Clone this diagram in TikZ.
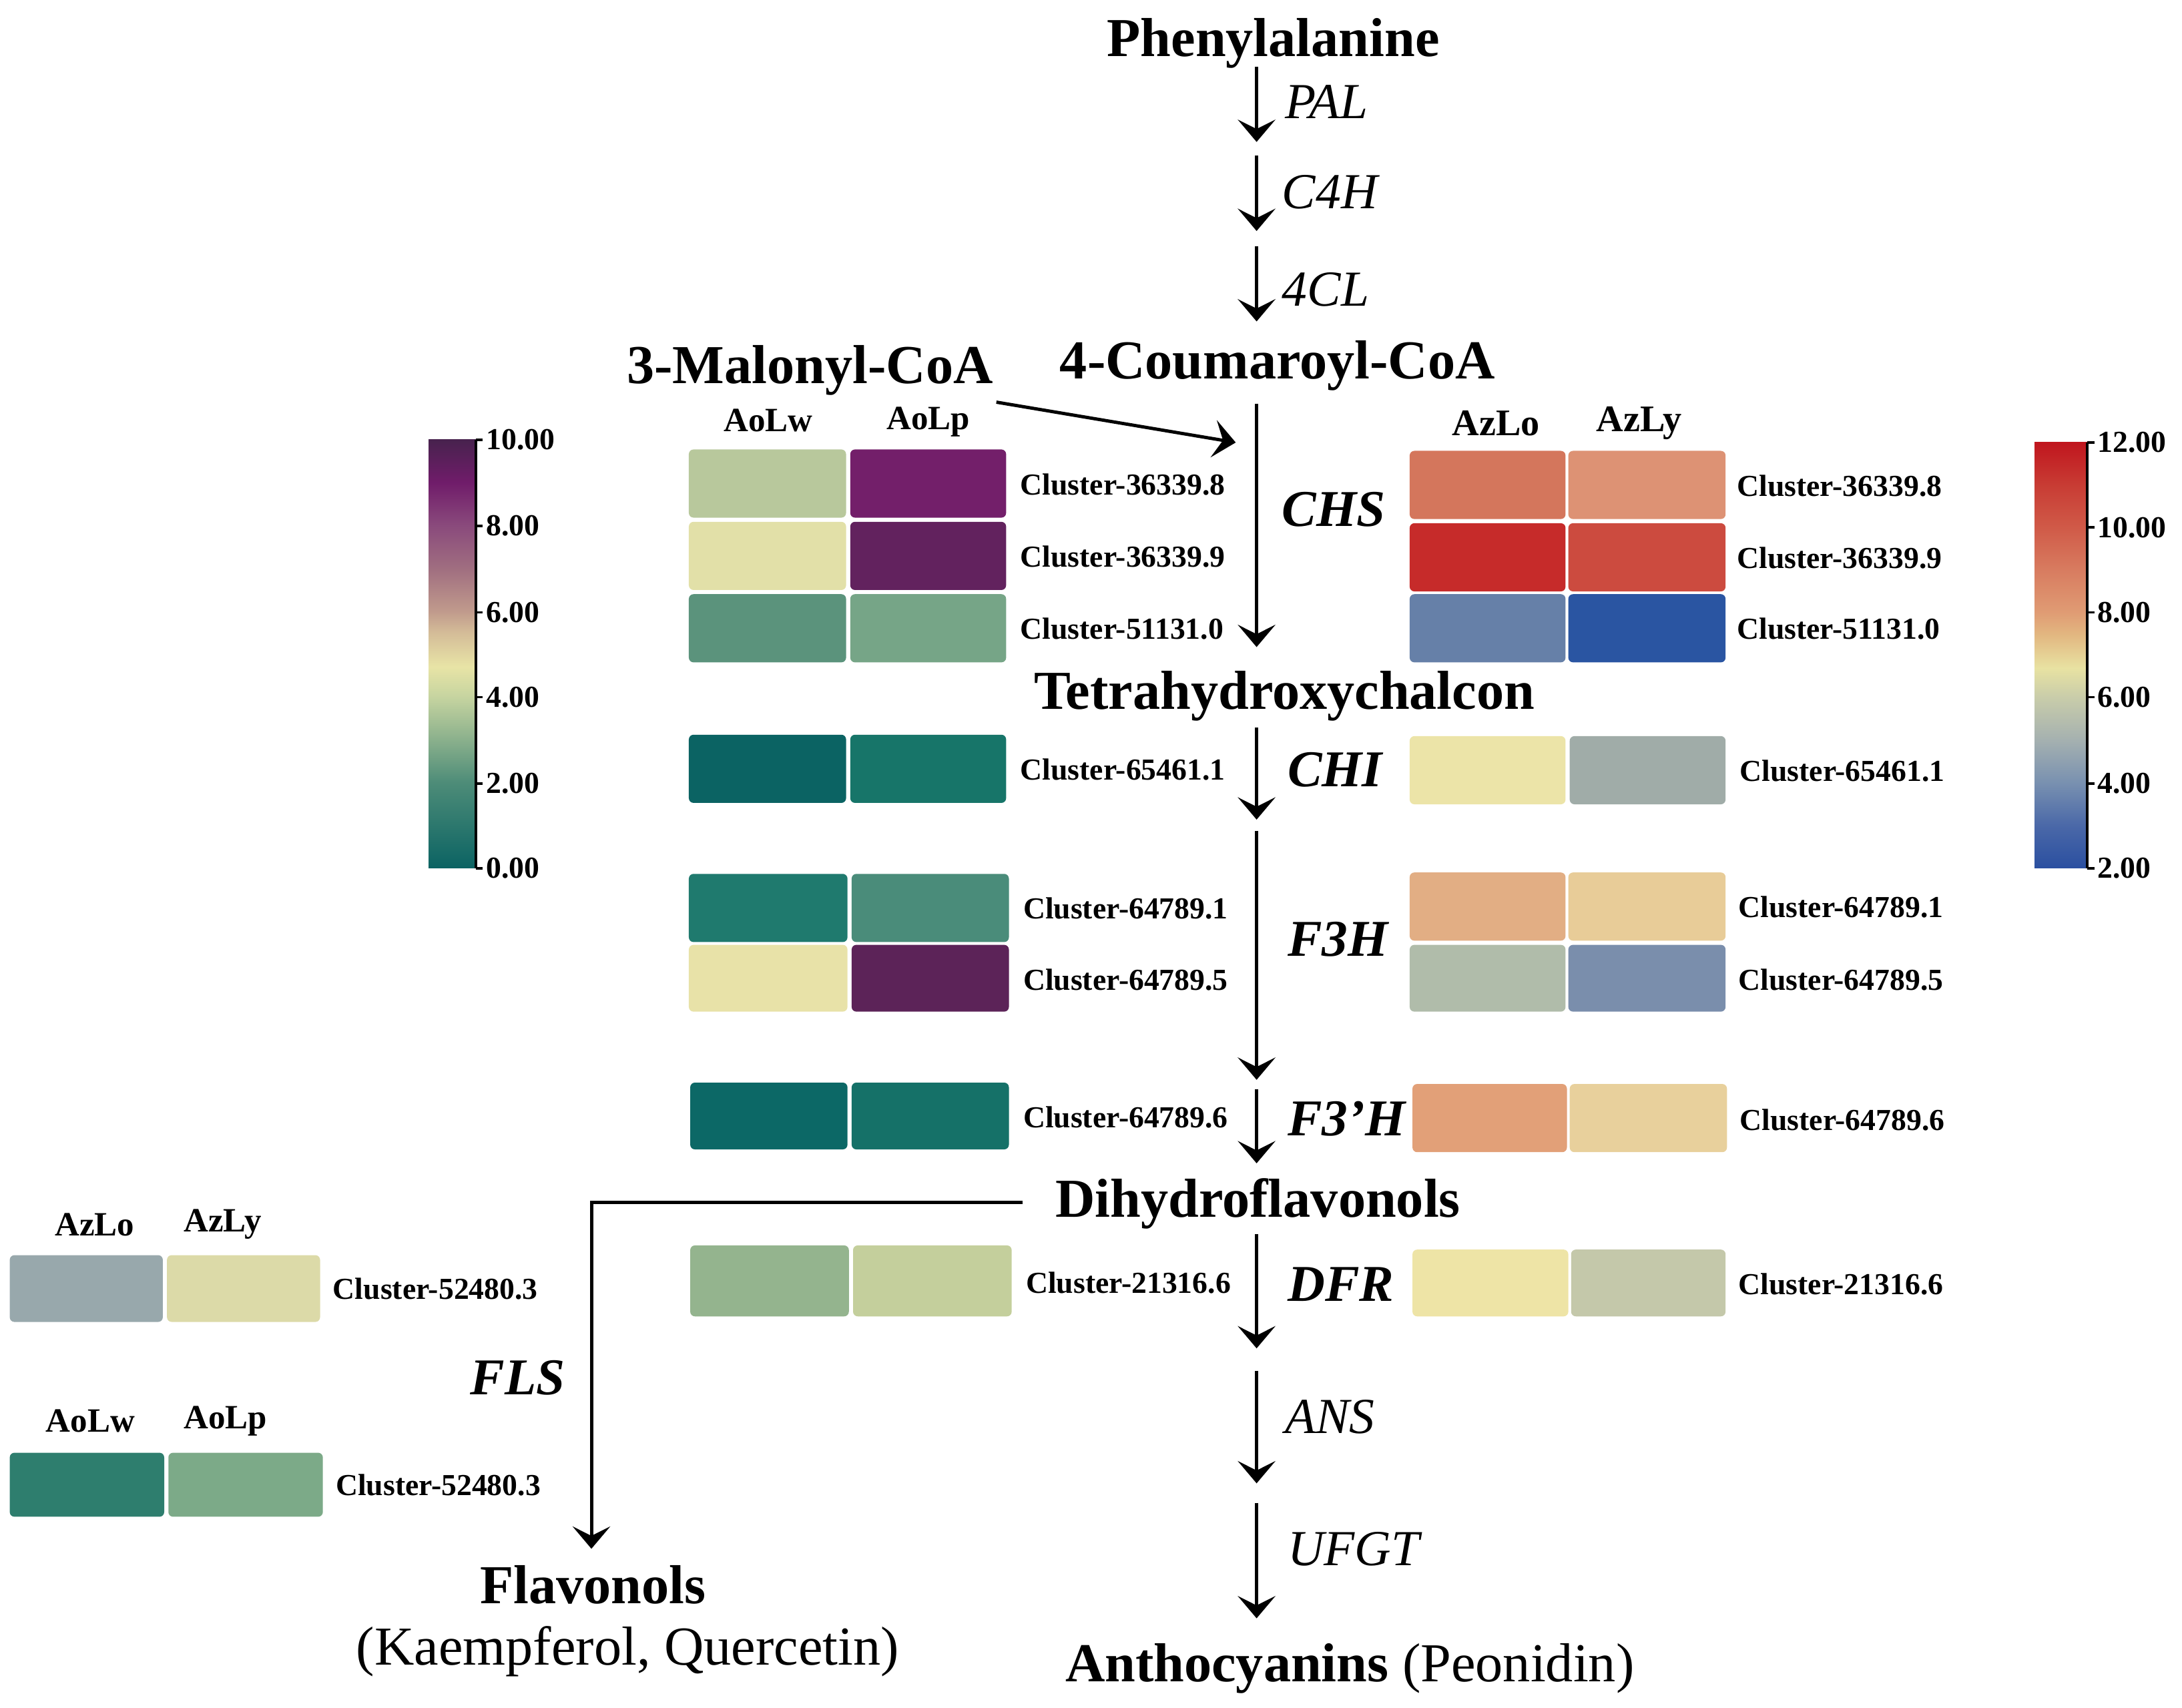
\documentclass[tikz,border=0pt]{standalone}
\usepackage{fontspec}
\setmainfont{Liberation Serif}
\usetikzlibrary{arrows.meta}
% left colour map (0..10)
\definecolor{la}{HTML}{0B6363}
\definecolor{lb}{HTML}{4D8C78}
\definecolor{lc}{HTML}{8AB08C}
\definecolor{ld}{HTML}{C6D4A0}
\definecolor{le}{HTML}{E8E4A6}
\definecolor{lf}{HTML}{D4BC98}
\definecolor{lg}{HTML}{C09A8C}
\definecolor{lh}{HTML}{A06E80}
\definecolor{li}{HTML}{8A4A7C}
\definecolor{lj}{HTML}{701C6A}
\definecolor{lk}{HTML}{48224E}
% right colour map (2..12)
\definecolor{ra}{HTML}{2A4FA0}
\definecolor{rb}{HTML}{4A68A8}
\definecolor{rc}{HTML}{7890B0}
\definecolor{rd}{HTML}{A4B0B0}
\definecolor{re}{HTML}{C8CCAA}
\definecolor{rf}{HTML}{E8E2A2}
\definecolor{rg}{HTML}{E2B680}
\definecolor{rh}{HTML}{E09C74}
\definecolor{ri}{HTML}{D87C60}
\definecolor{rj}{HTML}{D05A48}
\definecolor{rk}{HTML}{C83C34}
\definecolor{rl}{HTML}{C0161E}
\pgfdeclareverticalshading{cbleft}{100bp}{color(0bp)=(la); color(25bp)=(la); color(35bp)=(lb); color(40bp)=(lc); color(45bp)=(ld); color(48.5bp)=(le); color(52.5bp)=(lf); color(55bp)=(lg); color(60bp)=(lh); color(65bp)=(li); color(70bp)=(lj); color(75bp)=(lk); color(100bp)=(lk)}
\pgfdeclareverticalshading{cbright}{100bp}{color(0bp)=(ra); color(25bp)=(ra); color(30bp)=(rb); color(35bp)=(rc); color(40bp)=(rd); color(45bp)=(re); color(48.5bp)=(rf); color(52.5bp)=(rg); color(55bp)=(rh); color(60bp)=(ri); color(65bp)=(rj); color(70bp)=(rk); color(75bp)=(rl); color(100bp)=(rl)}
\newcommand\hmcell[5]{\definecolor{hmtmp}{HTML}{#5}\fill[fill=hmtmp, rounded corners=2pt] (#1,#2) rectangle (#3,#4);}
\begin{document}
\begin{tikzpicture}[x=0.02085cm, y=-0.02085cm,
  cmp/.style={font=\fontsize{23.4}{28}\selectfont\bfseries, inner sep=0pt},
  sub/.style={font=\fontsize{23.4}{28}\selectfont, inner sep=0pt},
  enz/.style={font=\fontsize{21.5}{26}\selectfont\itshape, anchor=west, inner sep=0pt},
  enzb/.style={font=\fontsize{22}{26}\selectfont\bfseries\itshape, anchor=west, inner sep=0pt},
  clab/.style={font=\fontsize{13}{15}\selectfont\bfseries, anchor=west, inner sep=0pt},
  hdr/.style={font=\fontsize{14.5}{17}\selectfont\bfseries, inner sep=0pt},
  hdrr/.style={font=\fontsize{16}{19}\selectfont\bfseries, inner sep=0pt},
  cbl/.style={font=\fontsize{13}{15}\selectfont\bfseries, anchor=west, inner sep=0pt},
  flow/.style={-{Stealth[length=9.5pt,width=16pt,inset=4pt]}, line width=1.4pt},
  cbaxis/.style={line width=1pt}]
\useasboundingbox (0,0) rectangle (1568,1227);

% compound nodes
\node[cmp] (phe) at (915,31) {Phenylalanine};
\node[cmp] (cou) at (918,263) {4-Coumaroyl-CoA};
\node[cmp] (mal) at (582,266) {3-Malonyl-CoA};
\node[cmp] (tet) at (923,500) {Tetrahydroxychalcon};
\node[cmp] (dih) at (904,865) {Dihydroflavonols};
\node[cmp] (fla) at (426,1139) {Flavonols};
\node[sub] (kq) at (451,1187) {(Kaempferol, Quercetin)};
\node[sub] (ant) at (970,1199) {\bfseries Anthocyanins\mdseries{} (Peonidin)};

% arrow end points on the main axis
\coordinate (p1) at (903,48);   \coordinate (p2) at (903,102);
\coordinate (p3) at (903,112);  \coordinate (p4) at (903,166);
\coordinate (p5) at (903,177);  \coordinate (p6) at (903,231);
\coordinate (p7) at (903,290);  \coordinate (p8) at (903,465);
\coordinate (p9) at (903,523);  \coordinate (p10) at (903,589);
\coordinate (p11) at (903,597); \coordinate (p12) at (903,776);
\coordinate (p13) at (903,783); \coordinate (p14) at (903,836);
\coordinate (p15) at (903,887); \coordinate (p16) at (903,969);
\coordinate (p17) at (903,985); \coordinate (p18) at (903,1066);
\coordinate (p19) at (903,1080);\coordinate (p20) at (903,1163);
\coordinate (m1) at (716,289);  \coordinate (m2) at (888,318);
\coordinate (f1) at (735,864);  \coordinate (f2) at (425,864);
\coordinate (f3) at (425,1113);

\draw[flow] (p1) -- (p2);
\draw[flow] (p3) -- (p4);
\draw[flow] (p5) -- (p6);
\draw[flow] (p7) -- (p8);
\draw[flow] (p9) -- (p10);
\draw[flow] (p11) -- (p12);
\draw[flow] (p13) -- (p14);
\draw[flow] (p15) -- (p16);
\draw[flow] (p17) -- (p18);
\draw[flow] (p19) -- (p20);
\draw[flow] (m1) -- (m2);
\draw[flow] (f1) -- (f2) -- (f3);

% enzyme labels
\node[enz] (pal) at (923,73) {PAL};
\node[enz] (c4h) at (921,138) {C4H};
\node[enz] (fcl) at (921,208) {4CL};
\node[enzb] (chs) at (921,366) {CHS};
\node[enzb] (chi) at (925,553) {CHI};
\node[enzb] (f3h) at (925,675) {F3H};
\node[enzb] (f3ph) at (925,804) {F3’H};
\node[enzb] (dfr) at (925,923) {DFR};
\node[enz] (ans) at (923,1018) {ANS};
\node[enz] (ufgt) at (925,1113) {UFGT};
\node[enzb, anchor=center] (fls) at (372,990) {FLS};

% headers
\node[hdr] (h1) at (552,302) {AoLw};
\node[hdr] (h2) at (667,303) {AoLp};
\node[hdrr] (h3) at (1075,304) {AzLo};
\node[hdrr] (h4) at (1178,304) {AzLy};
\node[hdr] (h5) at (68,880) {AzLo};
\node[hdr] (h6) at (160,880) {AzLy};
\node[hdr] (h7) at (65,1021) {AoLw};
\node[hdr] (h8) at (162,1021) {AoLp};

% CHS heatmaps
\hmcell{495}{323}{608}{372}{B8C89C}
\hmcell{611}{323}{723}{372}{731F6A}
\hmcell{495}{375}{608}{424}{E2E0A8}
\hmcell{611}{375}{723}{424}{62225E}
\hmcell{495}{427}{608}{476}{5B937C}
\hmcell{611}{427}{723}{476}{76A587}
\hmcell{1013}{324}{1125}{373}{D4765C}
\hmcell{1127}{324}{1240}{373}{DD9274}
\hmcell{1013}{376}{1125}{425}{C62B2A}
\hmcell{1127}{376}{1240}{425}{CC4B3F}
\hmcell{1013}{427}{1125}{476}{6680A8}
\hmcell{1127}{427}{1240}{476}{2A55A2}
\node[clab] (c1) at (733,348) {Cluster-36339.8};
\node[clab] (c2) at (733,400) {Cluster-36339.9};
\node[clab] (c3) at (733,452) {Cluster-51131.0};
\node[clab] (c4) at (1248,349) {Cluster-36339.8};
\node[clab] (c5) at (1248,401) {Cluster-36339.9};
\node[clab] (c6) at (1248,452) {Cluster-51131.0};

% CHI
\hmcell{495}{528}{608}{577}{0B6363}
\hmcell{611}{528}{723}{577}{177569}
\hmcell{1013}{529}{1125}{578}{ECE4A8}
\hmcell{1128}{529}{1240}{578}{A0ACA8}
\node[clab] (c7) at (733,553) {Cluster-65461.1};
\node[clab] (c8) at (1250,554) {Cluster-65461.1};

% F3H
\hmcell{495}{628}{609}{677}{1F7A6E}
\hmcell{612}{628}{725}{677}{4A8C7A}
\hmcell{495}{679}{609}{727}{E8E2A8}
\hmcell{612}{679}{725}{727}{5C2358}
\hmcell{1013}{627}{1125}{676}{E2AE84}
\hmcell{1127}{627}{1240}{676}{E8CC98}
\hmcell{1013}{679}{1125}{727}{B0BCAA}
\hmcell{1127}{679}{1240}{727}{7A8EAC}
\node[clab] (c9) at (735,653) {Cluster-64789.1};
\node[clab] (c10) at (735,704) {Cluster-64789.5};
\node[clab] (c11) at (1249,652) {Cluster-64789.1};
\node[clab] (c12) at (1249,704) {Cluster-64789.5};

% F3'H
\hmcell{496}{778}{609}{826}{0C6866}
\hmcell{612}{778}{725}{826}{157168}
\hmcell{1015}{779}{1126}{828}{E2A078}
\hmcell{1128}{779}{1241}{828}{E8D09C}
\node[clab] (c13) at (735,803) {Cluster-64789.6};
\node[clab] (c14) at (1250,805) {Cluster-64789.6};

% DFR
\hmcell{496}{895}{610}{946}{94B48E}
\hmcell{613}{895}{727}{946}{C4CF9C}
\hmcell{1015}{898}{1127}{946}{EEE4A6}
\hmcell{1129}{898}{1240}{946}{C4C8AA}
\node[clab] (c15) at (737,922) {Cluster-21316.6};
\node[clab] (c16) at (1249,923) {Cluster-21316.6};

% FLS
\hmcell{7}{902}{117}{950}{98A8AC}
\hmcell{120}{902}{230}{950}{DCDAA8}
\hmcell{7}{1044}{118}{1090}{2E7E6E}
\hmcell{121}{1044}{232}{1090}{7CAA88}
\node[clab] (c17) at (239,926) {Cluster-52480.3};
\node[clab] (c18) at (241,1067) {Cluster-52480.3};

% left colour bar
\shade[shading=cbleft] (308,316) rectangle (342,624);
\draw[cbaxis] (342,316) -- (342,624);
\foreach \yy/\lab in {316/10.00,378/8.00,440/6.00,501/4.00,563/2.00,624/0.00}{
  \draw[cbaxis] (342,\yy) -- (347,\yy);
  \node[cbl] at (349,\yy) {\lab};
}
% right colour bar
\shade[shading=cbright] (1462,318) rectangle (1500,624);
\draw[cbaxis] (1500,318) -- (1500,624);
\foreach \yy/\lab in {318/12.00,379/10.00,440/8.00,501/6.00,563/4.00,624/2.00}{
  \draw[cbaxis] (1500,\yy) -- (1505,\yy);
  \node[cbl] at (1507,\yy) {\lab};
}
\end{tikzpicture}
\end{document}
